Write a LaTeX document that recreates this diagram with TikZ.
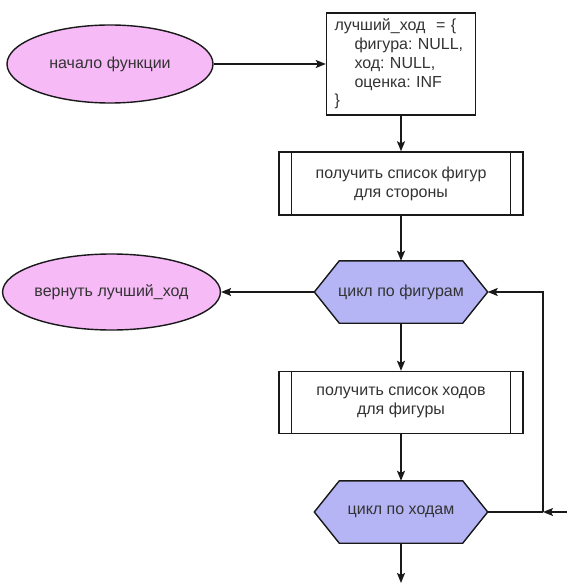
\documentclass[tikz,border=0pt]{standalone}
\usepackage{fontspec}
\setmainfont{Liberation Sans}
\usetikzlibrary{arrows.meta,shapes.geometric,backgrounds}
\definecolor{pinkfill}{RGB}{246,186,246}
\definecolor{hexfill}{RGB}{181,181,246}
\definecolor{txt}{RGB}{51,51,51}
\frenchspacing
\begin{document}
\begin{tikzpicture}[x=1pt,y=-1pt,
  every node/.style={font=\fontsize{16}{19}\selectfont, text=txt},
  line/.style={line width=1.4pt, draw=black!90},
  arr/.style={line, -{Stealth[length=10pt,width=8pt,inset=2pt]}},
  term/.style={ellipse, draw=black!90, line width=1.4pt, fill=pinkfill, inner sep=0},
  proc/.style={rectangle, draw=black!90, line width=1.4pt, fill=white, inner sep=0, align=center},
  hexa/.style={rectangle, inner sep=0, minimum width=173pt, minimum height=62pt}]
\useasboundingbox (0,0) rectangle (567,583);

% nodes
\node[term, minimum width=206pt, minimum height=78pt] (e1) at (110,64) {начало функции};
\node[proc, minimum width=149pt, minimum height=102pt, text width=133pt, align=left,
      font=\fontsize{16}{18.75}\selectfont] (b1) at (401,64)
  {лучший\_ход\ \ = \{\\\hspace*{20pt}фигура: NULL,\\\hspace*{20pt}ход: NULL,\\\hspace*{20pt}оценка: INF\\\}};
\node[proc, minimum width=244pt, minimum height=63pt] (b2) at (401,183.5)
  {получить список фигур\\для стороны};
\node[hexa] (h1) at (401,292) {цикл по фигурам};
\node[term, minimum width=203pt, minimum height=76pt] (e2) at (111.5,292) {вернуть лучший\_ход};
\node[proc, minimum width=244pt, minimum height=62pt] (b3) at (401,402.5)
  {получить список ходов\\для фигуры};
\node[hexa] (h2) at (401,512) {цикл по ходам};

% subroutine side bars
\foreach \b in {b2,b3}{
  \draw[line] ([xshift=13pt]\b.north west) -- ([xshift=13pt]\b.south west);
  \draw[line] ([xshift=-13pt]\b.north east) -- ([xshift=-13pt]\b.south east);
}

% hexagon outlines
\begin{scope}[on background layer]
\foreach \h in {h1,h2}
  \draw[line, fill=hexfill] (\h.west) -- ([xshift=25pt]\h.north west)
    -- ([xshift=-25pt]\h.north east) -- (\h.east)
    -- ([xshift=-25pt]\h.south east) -- ([xshift=25pt]\h.south west) -- cycle;
\end{scope}

% connectors
\coordinate (end) at (401,583);
\coordinate (j) at (543,512);
\coordinate (r) at (567,512);
\draw[arr] (e1.east) -- (b1.west);
\draw[arr] (b1.south) -- (b2.north);
\draw[arr] (b2.south) -- (h1.north);
\draw[arr] (h1.west) -- (e2.east);
\draw[arr] (h1.south) -- (b3.north);
\draw[arr] (b3.south) -- (h2.north);
\draw[arr] (h2.south) -- (end);
\draw[line] (h2.east) -- (j);
\draw[arr] (j) |- (h1.east);
\draw[arr] (r) -- (j);
\end{tikzpicture}
\end{document}
